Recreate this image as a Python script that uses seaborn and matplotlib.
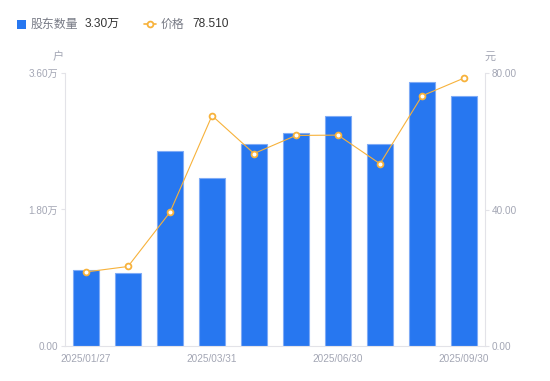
import matplotlib
matplotlib.use("Agg")
import matplotlib.pyplot as plt
import seaborn as sns
import numpy as np
import pandas as pd
from matplotlib.lines import Line2D
from matplotlib.patches import Rectangle

dates = ["2025/01/27", "2025/02/10", "2025/03/10", "2025/03/31", "2025/04/30",
         "2025/05/30", "2025/06/30", "2025/07/31", "2025/08/29", "2025/09/30"]
holders_wan = [1.00, 0.96, 2.57, 2.22, 2.67, 2.81, 3.03, 2.67, 3.48, 3.30]
price = [21.7, 23.3, 39.2, 67.5, 56.4, 61.7, 61.8, 53.4, 73.3, 78.51]
left_ticks = [0.0, 1.8, 3.6]
left_labels = ["0.00", "1.80万", "3.60万"]
right_ticks = [0, 40, 80]
right_labels = ["0.00", "40.00", "80.00"]
shown_idx = [0, 3, 6, 9]

sns.set_style("white")
plt.rcParams['font.family'] = ['Liberation Sans', 'Noto Sans CJK SC', 'DejaVu Sans']

BLUE = "#2777f0"
ORANGE = "#f7b23b"
TICK = "#a3a6b4"
SPINE = "#e3e3e8"

fig = plt.figure(figsize=(5.5, 3.81), dpi=100)
ax = fig.add_axes([65/550, 35/381, 420/550, 273/381])

df = pd.DataFrame({"date": dates, "holders": holders_wan, "price": price, "idx": np.arange(len(dates))})
sns.barplot(data=df, x="date", y="holders", color=BLUE, width=0.6, ax=ax,
            edgecolor="#7fabf6", linewidth=0.8, saturation=1)
ax.set_ylim(0, 3.6)
ax.set_xlim(-0.5, len(dates) - 0.5)
ax.set_yticks(left_ticks)
ax.set_yticklabels(left_labels)
ax.set_xticks(shown_idx)
ax.set_xticklabels([dates[i] for i in shown_idx])
ax.set_xlabel("")
ax.set_ylabel("")
ax.tick_params(axis='y', colors=TICK, labelsize=7.2, length=3, width=0.8, pad=2, direction='out', left=True)
ax.tick_params(axis='y', labelcolor=TICK)
ax.tick_params(axis='x', colors=TICK, labelsize=7.2, length=0, pad=6)
for s in ["top", "right"]:
    ax.spines[s].set_visible(False)
ax.spines["left"].set_color(SPINE)
ax.spines["bottom"].set_color(SPINE)
ax.spines["left"].set_linewidth(0.8)
ax.spines["bottom"].set_linewidth(0.8)
ax.tick_params(axis='y', color=SPINE)

ax2 = ax.twinx()
sns.lineplot(data=df, x="idx", y="price", ax=ax2, color=ORANGE, linewidth=0.8,
             marker="o", markersize=4.2, markerfacecolor="white",
             markeredgecolor=ORANGE, markeredgewidth=1.3)
ax2.set_ylim(0, 80)
ax2.set_xlim(-0.5, len(dates) - 0.5)
ax2.set_yticks(right_ticks)
ax2.set_yticklabels(right_labels)
ax2.set_ylabel("")
ax2.set_xlabel("")
ax2.tick_params(axis='y', colors=SPINE, labelcolor=TICK, labelsize=7.2, length=3, width=0.8, pad=2, right=True)
for s in ["top", "left", "bottom"]:
    ax2.spines[s].set_visible(False)
ax2.spines["right"].set_color(SPINE)
ax2.spines["right"].set_linewidth(0.8)

# unit labels
fig.text(58/550, 1 - 57/381, "户", color=TICK, fontsize=8, ha="center", va="center",
         family=['Noto Sans CJK SC'])
fig.text(490/550, 1 - 57/381, "元", color=TICK, fontsize=8, ha="center", va="center",
         family=['Noto Sans CJK SC'])

# legend
ly = 1 - 24/381
fig.add_artist(Rectangle((17/550, ly - 4.5/381), 9/550, 9/381, transform=fig.transFigure,
                         facecolor=BLUE, edgecolor="none"))
fig.text(31/550, ly, "股东数量", color="#777a85", fontsize=8.6, ha="left", va="center",
         family=['Noto Sans CJK SC'])
fig.text(85/550, ly, "3.30万", color="#333333", fontsize=8.6, ha="left", va="center")
fig.add_artist(Line2D([144/550, 156/550], [ly, ly], transform=fig.transFigure,
                      color=ORANGE, linewidth=1.2))
fig.add_artist(Line2D([150/550], [ly], transform=fig.transFigure, marker="o",
                      markersize=4.2, markerfacecolor="white", markeredgecolor=ORANGE,
                      markeredgewidth=1.3, linestyle="none"))
fig.text(161/550, ly, "价格", color="#777a85", fontsize=8.6, ha="left", va="center",
         family=['Noto Sans CJK SC'])
fig.text(192/550, ly, "78.510", color="#333333", fontsize=8.6, ha="left", va="center")

fig.savefig("out.png", dpi=100)
